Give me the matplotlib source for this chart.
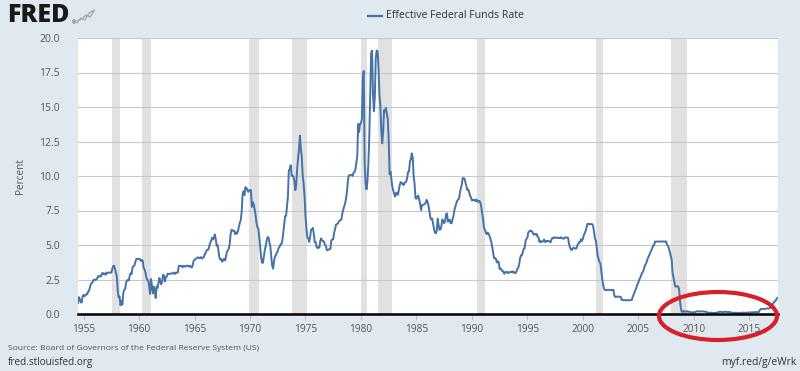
import numpy as np
import matplotlib
matplotlib.use('Agg')
import matplotlib.pyplot as plt
from matplotlib.patches import Ellipse
from matplotlib.lines import Line2D

# Effective Federal Funds Rate, monthly, starting July 1954 (percent)
rates_1950s = [
    0.80, 1.22, 1.07, 0.85, 0.83, 1.28,
    1.39, 1.29, 1.35, 1.43, 1.43, 1.64, 1.68, 1.96, 2.18, 2.24, 2.35, 2.48,
    2.45, 2.50, 2.50, 2.62, 2.75, 2.71, 2.75, 2.73, 2.95, 2.96, 2.88, 2.94,
    2.84, 3.00, 2.96, 3.00, 3.00, 3.00, 2.99, 3.24, 3.47, 3.50, 3.28, 2.98,
    2.72, 1.67, 1.20, 1.26, 0.63, 0.93, 0.68, 1.53, 1.76, 1.80, 2.27, 2.42,
    2.48, 2.43, 2.80, 2.96, 2.90, 3.39, 3.47, 3.50, 3.76, 3.98, 4.00, 3.99,
]
rates_1960s = [
    3.99, 3.97, 3.84, 3.92, 3.85, 3.32, 3.23, 2.98, 2.60, 2.47, 2.44, 1.98,
    1.45, 2.54, 2.02, 1.49, 1.98, 1.73, 1.16, 2.00, 1.88, 2.26, 2.61, 2.33,
    2.15, 2.37, 2.85, 2.78, 2.36, 2.68, 2.71, 2.93, 2.90, 2.90, 2.94, 2.93,
    2.92, 3.00, 2.98, 2.90, 3.00, 2.99, 3.02, 3.49, 3.48, 3.50, 3.48, 3.38,
    3.48, 3.48, 3.43, 3.47, 3.50, 3.50, 3.42, 3.50, 3.45, 3.36, 3.52, 3.85,
    3.90, 3.98, 4.04, 4.09, 4.10, 4.04, 4.09, 4.12, 4.01, 4.08, 4.10, 4.32,
    4.42, 4.60, 4.65, 4.67, 4.90, 5.17, 5.30, 5.53, 5.40, 5.53, 5.76, 5.40,
    4.94, 5.00, 4.53, 4.05, 3.94, 3.98, 3.79, 3.90, 3.99, 3.88, 4.13, 4.51,
    4.61, 4.71, 5.05, 5.76, 6.11, 6.07, 6.02, 6.03, 5.78, 5.91, 5.82, 6.02,
    6.30, 6.61, 6.79, 7.41, 8.67, 8.90, 8.61, 9.19, 9.15, 9.00, 8.85, 8.97,
]
rates_1970s = [
    8.98, 8.98, 7.76, 8.10, 7.95, 7.61, 7.21, 6.61, 6.29, 6.20, 5.60, 4.90,
    4.14, 3.72, 3.71, 4.16, 4.63, 4.91, 5.31, 5.57, 5.55, 5.20, 4.91, 4.14,
    3.50, 3.29, 3.83, 4.17, 4.27, 4.46, 4.55, 4.80, 4.87, 5.04, 5.06, 5.33,
    5.94, 6.58, 7.09, 7.12, 7.84, 8.49, 10.40, 10.50, 10.78, 10.01, 10.03, 9.95,
    9.65, 8.97, 9.35, 10.51, 11.31, 11.93, 12.92, 12.01, 11.34, 10.06, 9.45, 8.53,
    7.13, 6.24, 5.54, 5.49, 5.22, 5.55, 6.10, 6.14, 6.24, 5.82, 5.22, 5.20,
    4.87, 4.77, 4.84, 4.82, 5.29, 5.48, 5.31, 5.29, 5.25, 5.02, 4.95, 4.65,
    4.61, 4.68, 4.69, 4.73, 5.35, 5.39, 5.42, 5.90, 6.14, 6.47, 6.51, 6.56,
    6.70, 6.78, 6.79, 6.89, 7.36, 7.60, 7.81, 8.04, 8.45, 8.96, 9.76, 10.03,
    10.07, 10.06, 10.09, 10.01, 10.24, 10.29, 10.47, 10.94, 11.43, 13.77, 13.18, 13.78,
]
rates_1980s = [
    13.82, 14.13, 17.19, 17.61, 10.98, 9.47, 9.03, 9.61, 10.87, 12.81, 15.85, 18.90,
    19.08, 15.93, 14.70, 15.72, 18.52, 19.10, 19.04, 17.82, 15.87, 15.08, 13.31, 12.37,
    13.22, 14.78, 14.68, 14.94, 14.45, 14.15, 12.59, 10.12, 10.31, 9.71, 9.20, 8.95,
    8.68, 8.51, 8.77, 8.80, 8.63, 8.98, 9.37, 9.56, 9.45, 9.48, 9.34, 9.47,
    9.56, 9.59, 9.91, 10.29, 10.32, 11.06, 11.23, 11.64, 11.30, 9.99, 9.43, 8.38,
    8.35, 8.50, 8.58, 8.27, 7.97, 7.53, 7.88, 7.90, 7.92, 7.99, 8.05, 8.27,
    8.14, 7.86, 7.48, 6.99, 6.85, 6.92, 6.56, 6.17, 5.89, 5.85, 6.04, 6.91,
    6.43, 6.10, 6.13, 6.37, 6.85, 6.73, 6.58, 6.73, 7.22, 7.29, 6.69, 6.77,
    6.83, 6.58, 6.58, 6.87, 7.09, 7.51, 7.75, 8.01, 8.19, 8.30, 8.35, 8.76,
    9.12, 9.36, 9.85, 9.84, 9.81, 9.53, 9.24, 8.99, 9.02, 8.84, 8.55, 8.45,
]
rates_1990s = [
    8.23, 8.24, 8.28, 8.26, 8.18, 8.29, 8.15, 8.13, 8.20, 8.11, 7.81, 7.31,
    6.91, 6.25, 6.12, 5.91, 5.78, 5.90, 5.82, 5.66, 5.45, 5.21, 4.81, 4.43,
    4.03, 4.06, 3.98, 3.73, 3.82, 3.76, 3.25, 3.30, 3.22, 3.10, 3.09, 2.92,
    3.02, 3.03, 3.07, 2.96, 3.00, 3.04, 3.06, 3.03, 3.09, 2.99, 3.02, 2.96,
    3.05, 3.25, 3.34, 3.56, 4.01, 4.25, 4.26, 4.47, 4.73, 4.76, 5.29, 5.45,
    5.53, 5.92, 5.98, 6.05, 6.01, 6.00, 5.85, 5.74, 5.80, 5.76, 5.80, 5.60,
    5.56, 5.22, 5.31, 5.22, 5.24, 5.27, 5.40, 5.22, 5.30, 5.24, 5.31, 5.29,
    5.25, 5.19, 5.39, 5.51, 5.50, 5.56, 5.52, 5.54, 5.54, 5.50, 5.52, 5.50,
    5.56, 5.51, 5.49, 5.45, 5.49, 5.56, 5.54, 5.55, 5.51, 5.07, 4.83, 4.68,
    4.63, 4.76, 4.81, 4.74, 4.74, 4.76, 4.99, 5.07, 5.22, 5.20, 5.42, 5.30,
]
rates_2000s = [
    5.45, 5.73, 5.85, 6.02, 6.27, 6.53, 6.54, 6.50, 6.52, 6.51, 6.51, 6.40,
    5.98, 5.49, 5.31, 4.80, 4.21, 3.97, 3.77, 3.65, 3.07, 2.49, 2.09, 1.82,
    1.73, 1.74, 1.73, 1.75, 1.75, 1.75, 1.73, 1.74, 1.75, 1.75, 1.34, 1.24,
    1.24, 1.26, 1.25, 1.26, 1.26, 1.22, 1.01, 1.03, 1.01, 1.01, 1.00, 0.98,
    1.00, 1.01, 1.00, 1.00, 1.00, 1.03, 1.26, 1.43, 1.61, 1.76, 1.93, 2.16,
    2.28, 2.50, 2.63, 2.79, 3.00, 3.04, 3.26, 3.50, 3.62, 3.78, 4.00, 4.16,
    4.29, 4.49, 4.59, 4.79, 4.94, 4.99, 5.24, 5.25, 5.25, 5.25, 5.25, 5.24,
    5.25, 5.26, 5.26, 5.25, 5.25, 5.25, 5.26, 5.02, 4.94, 4.76, 4.49, 4.24,
    3.94, 2.98, 2.61, 2.28, 1.98, 2.00, 2.01, 2.00, 1.81, 0.97, 0.39, 0.16,
    0.15, 0.22, 0.18, 0.15, 0.18, 0.21, 0.16, 0.16, 0.15, 0.12, 0.12, 0.12,
]
rates_2010s = [
    0.11, 0.13, 0.16, 0.20, 0.20, 0.18, 0.18, 0.19, 0.19, 0.19, 0.19, 0.18,
    0.17, 0.16, 0.14, 0.10, 0.09, 0.09, 0.07, 0.10, 0.08, 0.07, 0.08, 0.07,
    0.08, 0.10, 0.13, 0.14, 0.16, 0.16, 0.16, 0.13, 0.14, 0.16, 0.16, 0.16,
    0.14, 0.15, 0.14, 0.15, 0.11, 0.09, 0.09, 0.08, 0.08, 0.09, 0.08, 0.09,
    0.07, 0.07, 0.08, 0.09, 0.09, 0.10, 0.09, 0.09, 0.09, 0.09, 0.09, 0.12,
    0.11, 0.11, 0.11, 0.12, 0.12, 0.13, 0.13, 0.14, 0.14, 0.12, 0.12, 0.24,
    0.34, 0.38, 0.36, 0.37, 0.37, 0.38, 0.39, 0.40, 0.40, 0.40, 0.41, 0.54,
    0.65, 0.66, 0.79, 0.90, 0.91, 1.04, 1.15, 1.16,
]
start_year = 1954.5  # July 1954

# NBER recessions (start, end) as decimal years
recessions = [
    (1957.58, 1958.25), (1960.25, 1961.08), (1969.92, 1970.83),
    (1973.83, 1975.17), (1980.0, 1980.5), (1981.5, 1982.83),
    (1990.5, 1991.17), (2001.17, 2001.83), (2007.92, 2009.42),
]

x_ticks = [1955, 1960, 1965, 1970, 1975, 1980, 1985, 1990, 1995, 2000, 2005, 2010, 2015]
y_ticks = [0.0, 2.5, 5.0, 7.5, 10.0, 12.5, 15.0, 17.5, 20.0]

rates = rates_1950s + rates_1960s + rates_1970s + rates_1980s + rates_1990s + rates_2000s + rates_2010s
years = start_year + np.arange(len(rates)) / 12.0

plt.rcParams['font.family'] = ['Open Sans', 'DejaVu Sans']

BG = '#e1e9f0'
LINE = '#4572a7'

fig = plt.figure(figsize=(8.0, 3.71), dpi=100, facecolor=BG)
ax = fig.add_axes([78 / 800, 1 - 314 / 371, 700 / 800, 276 / 371])
ax.set_facecolor('white')

for r0, r1 in recessions:
    ax.axvspan(r0, r1, color='#e1e1e1', lw=0, zorder=1)

ax.plot(years, rates, color=LINE, lw=1.4, zorder=3)

ax.set_xlim(start_year, years[-1])
ax.set_ylim(0, 20)
ax.set_xticks(x_ticks)
ax.set_yticks(y_ticks)
ax.set_yticklabels([f'{v:.1f}' for v in y_ticks])
ax.grid(axis='y', color='#c8c8c8', lw=0.8, zorder=2)
ax.set_axisbelow(False)

for s in ['top', 'left', 'right']:
    ax.spines[s].set_visible(False)
ax.spines['bottom'].set_color('black')
ax.spines['bottom'].set_linewidth(1.8)
ax.spines['bottom'].set_zorder(4)

ax.tick_params(axis='x', colors='#c0c0c0', length=4, width=0.8, labelsize=7.3,
               labelcolor='#555555', pad=3)
ax.tick_params(axis='y', length=0, labelsize=7.5, labelcolor='#555555', pad=13)
ax.set_ylabel('Percent', fontsize=7.2, color='#555555')
ax.yaxis.set_label_coords(-0.0745, 0.5)

# header: logo and legend
fig.text(7 / 800, 1 - 16 / 371, 'FRED', fontsize=18, fontweight='black',
         color='#1b1b1b', ha='left', va='center')
fig.text(72 / 800, 1 - 23 / 371, '®', fontsize=3.5, color='#1b1b1b', ha='left', va='center')
fig.add_artist(Line2D(np.array([77, 81, 85, 89, 94]) / 800,
                      1 - np.array([23, 18, 20, 13, 10]) / 371,
                      color='#9fb88e', lw=1.0))
fig.add_artist(Line2D(np.array([77, 82, 86, 90, 94]) / 800,
                      1 - np.array([21, 19, 15, 17, 11]) / 371,
                      color='#a9a9a9', lw=1.0))

fig.add_artist(Line2D([368 / 800, 382 / 800], [1 - 16 / 371, 1 - 16 / 371],
                      color=LINE, lw=1.6))
fig.text(386 / 800, 1 - 16 / 371, 'Effective Federal Funds Rate', fontsize=7.6,
         color='#333333', ha='left', va='center')

# footer
fig.text(8 / 800, 1 - 348 / 371, 'Source: Board of Governors of the Federal Reserve System (US)',
         fontsize=6.1, color='#555555', ha='left', va='center')
fig.text(8 / 800, 1 - 362 / 371, 'fred.stlouisfed.org', fontsize=7.2,
         color='#333333', ha='left', va='center')
fig.text(796 / 800, 1 - 362 / 371, 'myf.red/g/eWrk', fontsize=7.4,
         color='#333333', ha='right', va='center')

# hand-drawn red ellipse highlighting the near-zero period
fig.add_artist(Ellipse((718 / 800, 1 - 316 / 371), 118 / 800, 48 / 371,
                       fill=False, edgecolor='#d8202a', lw=3.0, zorder=10))

fig.savefig('out.png', dpi=100, facecolor=BG)
